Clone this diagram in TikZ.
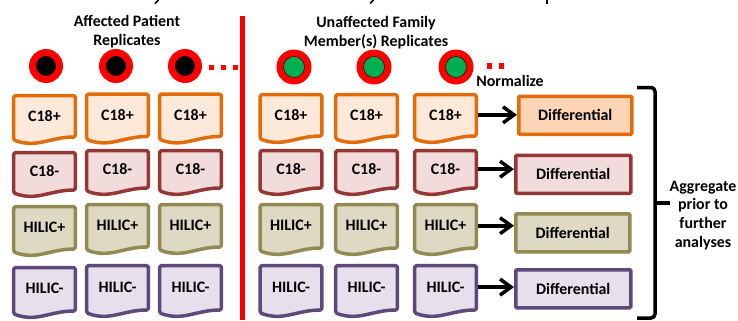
\documentclass[tikz,border=0pt]{standalone}
\usepackage{fontspec}
\setmainfont{Carlito}
\usetikzlibrary{arrows.meta}
\definecolor{repred}{HTML}{FF0000}
\definecolor{repgreen}{HTML}{00B050}
\definecolor{orangeln}{HTML}{E36C0A}
\definecolor{orangebg}{HTML}{FDE9D9}
\definecolor{orangedf}{HTML}{FBD5B5}
\definecolor{redln}{HTML}{953735}
\definecolor{redbg}{HTML}{F2DCDB}
\definecolor{oliveln}{HTML}{938953}
\definecolor{olivebg}{HTML}{DDD9C3}
\definecolor{purpleln}{HTML}{5F497A}
\definecolor{purplebg}{HTML}{E5E0EC}
\tikzset{
	txtnode/.style = {align=center, inner sep=0pt, font=\fontsize{16}{19}\selectfont\bfseries},
	docline/.style = {line width=3.5bp, rounded corners=1.5bp, line join=round},
	docc18p/.style = {docline, draw=orangeln, fill=orangebg},
	docc18m/.style = {docline, draw=redln, fill=redbg},
	dochilp/.style = {docline, draw=oliveln, fill=olivebg},
	dochilm/.style = {docline, draw=purpleln, fill=purplebg},
	diffnode/.style = {txtnode, anchor=north west, rectangle, line width=3.5bp, rounded corners=1bp},
	patient/.style = {circle, inner sep=0pt, minimum size=27bp, line width=7bp, draw=repred, fill=black},
	family/.style = {circle, inner sep=0pt, minimum size=35bp, fill=repred},
	familycore/.style = {circle, inner sep=0pt, minimum size=21bp, draw=black, line width=0.4bp, fill=repgreen},
	reddot/.style = {rectangle, inner sep=0pt, minimum size=5.5bp, fill=repred},
	normarrow/.style = {line width=3.8bp, -{Straight Barb[length=11bp,width=16bp,line width=3.5bp]}},
}
% name, left, top, height, style, text
\newcommand{\docnode}[6]{
	\begin{scope}[shift={(#2,#3)}]
		\draw[#5] (1.7,1.7) -- (63.3,1.7) -- (63.3,{#4-9})
			.. controls (38,{#4-9}) and (25,{#4+2.5}) .. (1.7,{#4-6}) -- cycle;
		\node[txtnode, minimum width=65bp, minimum height={0.84*#4*1bp}] (#1) at (32.5,{0.42*#4}) {#6};
	\end{scope}
}

\begin{document}
\begin{tikzpicture}[x=1bp,y=-1bp]
	\useasboundingbox (0,0) rectangle (738,320);

	% cut off title
	\draw[line width=1.5bp] (158.5,0) -- (155,3.5);
	\draw[line width=1.5bp] (373.5,0) -- (370,3.5);
	\draw[line width=2bp] (546.5,0) -- (546.5,4);

	\coordinate (barT) at (242.5,16);
	\coordinate (barB) at (242.5,320);
	\draw[repred, line width=5bp] (barT) -- (barB);

	\node[txtnode] (affected) at (127,31.5) {Affected Patient\\Replicates};
	\node[txtnode] (unaffected) at (376,33) {Unaffected Family\\Member(s) Replicates};
	\node[txtnode] (normalize) at (510,81) {Normalize};
	\node[txtnode] (aggregate) at (703,215.5) {Aggregate\\prior to\\further\\analyses};

	\node[patient] (pat1) at (46,66) {};
	\node[patient] (pat2) at (116,66) {};
	\node[patient] (pat3) at (185,66) {};
	\node[reddot] (dotl1) at (211.5,67.5) {};
	\node[reddot] (dotl2) at (223.5,67.5) {};
	\node[reddot] (dotl3) at (235.5,67.5) {};

	\node[family] (fam1) at (294,67) {};
	\node[familycore] (core1) at (fam1) {};
	\node[family] (fam2) at (374,67) {};
	\node[familycore] (core2) at (fam2) {};
	\node[family] (fam3) at (456,67) {};
	\node[familycore] (core3) at (fam3) {};
	\node[reddot] (dotr1) at (489.5,66) {};
	\node[reddot] (dotr2) at (501.5,66) {};

	\docnode{cpa}{12}{94}{52}{docc18p}{C18+}
	\docnode{cpb}{85}{92.5}{53}{docc18p}{C18+}
	\docnode{cpc}{158}{92.5}{53}{docc18p}{C18+}
	\docnode{cpd}{258.5}{93}{52}{docc18p}{C18+}
	\docnode{cpe}{334}{93}{52}{docc18p}{C18+}
	\docnode{cpf}{413}{93}{52}{docc18p}{C18+}

	\docnode{cma}{12}{151}{48}{docc18m}{C18-}
	\docnode{cmb}{85}{149}{48}{docc18m}{C18-}
	\docnode{cmc}{158}{149}{48}{docc18m}{C18-}
	\docnode{cmd}{258.5}{149}{48}{docc18m}{C18-}
	\docnode{cme}{334}{149}{48}{docc18m}{C18-}
	\docnode{cmf}{413}{149}{48}{docc18m}{C18-}

	\docnode{hpa}{12}{205}{53}{dochilp}{HILIC+}
	\docnode{hpb}{85}{203}{53}{dochilp}{HILIC+}
	\docnode{hpc}{158}{203}{53}{dochilp}{HILIC+}
	\docnode{hpd}{258.5}{203}{54}{dochilp}{HILIC+}
	\docnode{hpe}{334}{203}{54}{dochilp}{HILIC+}
	\docnode{hpf}{413}{203}{54}{dochilp}{HILIC+}

	\docnode{hma}{12}{266}{54}{dochilm}{HILIC-}
	\docnode{hmb}{85}{264}{55}{dochilm}{HILIC-}
	\docnode{hmc}{158}{264}{55}{dochilm}{HILIC-}
	\docnode{hmd}{258.5}{264}{55}{dochilm}{HILIC-}
	\docnode{hme}{334}{264}{55}{dochilm}{HILIC-}
	\docnode{hmf}{413}{264}{55}{dochilm}{HILIC-}

	\node[diffnode, draw=orangeln, fill=orangedf, minimum width=113bp, minimum height=38bp] (diffa) at (517,94.5) {Differential};
	\node[diffnode, draw=redln, fill=redbg, minimum width=115bp, minimum height=38bp] (diffb) at (514,153.5) {Differential};
	\node[diffnode, draw=oliveln, fill=olivebg, minimum width=114bp, minimum height=38bp] (diffc) at (514,212) {Differential};
	\node[diffnode, draw=purpleln, fill=purplebg, minimum width=115bp, minimum height=38bp] (diffd) at (514,268) {Differential};

	\draw[normarrow] (cpf.east) -- (cpf.east -| diffa.west);
	\draw[normarrow] (cmf.east) -- (cmf.east -| diffb.west);
	\draw[normarrow] (hpf.east) -- (hpf.east -| diffc.west);
	\draw[normarrow] (hmf.east) -- (hmf.east -| diffd.west);

	\coordinate (bracktop) at (637,87.5);
	\coordinate (brackcorner) at (655,87.5);
	\coordinate (brackend) at (655,318);
	\coordinate (brackbot) at (637,318);
	\coordinate (brackmid) at (655,203);
	\coordinate (bracktip) at (670,203);
	\draw[line width=3.5bp, rounded corners=4bp] (bracktop) -- (brackcorner) -- (brackend) -- (brackbot);
	\draw[line width=3.5bp] (brackmid) -- (bracktip);
\end{tikzpicture}
\end{document}
